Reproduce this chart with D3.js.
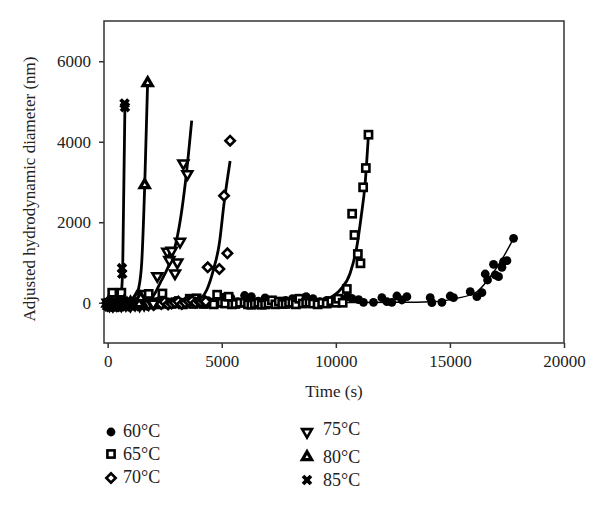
<!DOCTYPE html>
<html><head><meta charset="utf-8">
<script src="https://cdn.jsdelivr.net/npm/d3@7"></script>
<style>body{margin:0;background:#fff}svg{display:block}text{font-family:"Liberation Serif","Times New Roman",serif;fill:#222}</style>
</head><body><svg id="c" width="600" height="511"></svg>
<script>
// ---- data (time s, adjusted hydrodynamic diameter nm) ----
const t60 = [100,400,700,1000,1400,1800,2200,2600,3000,3300,3700,4000,4400,4800,5100,5400,5700,6000,6300,6600,6900,7200,7500,7800,8100,8400,8700,9000,9300,9600,9900,10200,10500,10700,11000,11211,11650,12018,12237,12456,12675,12895,13114,14136,14210,14649,15013,15158,15890,16183,16403,16548,16650,16912,16987,17131,17280,17352,17500,17790];
const y60 = [30,0,20,10,40,0,30,20,60,10,80,20,50,100,140,130,30,180,150,40,120,60,20,60,100,70,150,100,30,60,20,90,150,110,80,11,11,126,26,11,168,68,150,126,1,11,168,126,274,150,250,714,565,955,690,648,881,1021,1046,1601];
const t65 = [50,200,350,500,600,750,900,1050,1200,1350,1500,1650,1800,1950,2100,2250,2400,2550,2700,2850,3000,3150,3300,3450,3600,3750,3900,4050,4200,4350,4500,4650,4800,4950,5000,5150,5300,5450,5600,5800,6000,6150,6300,6450,6600,6750,6900,7050,7200,7350,7500,7650,7800,7950,8100,8250,8400,8550,8700,8850,9000,9200,9400,9600,9800,10000,10100,10300,10482,10715,10817,10965,11080,11197,11315,11431];
const y65 = [0,250,-40,-20,250,0,-30,-20,-20,0,200,-30,220,-10,0,-40,230,0,-30,0,0,-20,-40,0,100,-30,110,0,-30,-20,0,-40,200,0,0,-20,150,-40,-30,0,0,-40,-50,-30,0,-50,-40,-20,60,-40,30,-30,-30,0,0,-40,100,-20,0,0,-20,-40,0,-20,40,0,100,0,342,2212,1683,1211,980,2868,3347,4175];
const t70 = [0,100,200,300,400,500,600,700,800,900,1000,1150,1300,1450,1600,1750,1900,2050,2200,2350,2500,2650,2800,2950,3100,3250,3400,3550,3700,3850,4000,4100,4200,4300,4386,4896,5101,5247,5367];
const y70 = [0,-40,-20,-50,10,-30,-10,-60,0,-40,-30,-50,10,-40,0,-50,-20,-40,0,-30,20,-40,-20,0,30,-30,0,40,50,0,40,20,60,30,881,838,2660,1228,4027];
const t75 = [0,80,150,230,300,400,500,600,700,800,900,1000,1100,1200,1300,1400,1500,1600,1700,1800,1900,2000,2176,2615,2806,2703,3054,2952,3171,3317,3493];
const y75 = [0,-60,-30,-70,0,-50,-20,-60,10,-50,-30,-70,0,-40,-20,-60,10,-40,0,-30,30,-20,664,1270,1293,1062,1004,731,1518,3463,3198];
const t80 = [0,60,100,170,250,320,400,470,550,620,700,770,850,920,1000,1080,1150,1230,1300,1380,1450,1623,1754];
const y80 = [-20,-70,0,-60,-40,-80,0,-60,-30,-70,10,-60,-30,-70,0,-50,-20,-60,150,-30,120,2925,5460];
const t85 = [0,40,80,120,160,200,240,280,320,360,400,440,480,520,560,627,640,740,759];
const y85 = [-60,-100,-80,-110,-50,-90,-70,-100,-90,-110,-60,-100,-80,-90,-50,860,720,4950,4860];

// fitted curves
const fit60t = [0,4000,8000,11000,12820,14136,15306,16183,16768,17352,17790];
const fit60y = [0,2,5,8,11,26,110,274,647,1145,1601];
const fit65t = [9167,9605,10188,10627,10920,11110,11285,11431];
const fit65y = [26,86,317,732,1394,2138,2968,4190];
const fit70t = [3900,4048,4342,4632,4896,5101,5367];
const fit70y = [0,68,317,813,1477,2470,3521];
const fit75t = [1800,2075,2294,2659,3000,3250,3450,3684];
const fit75y = [10,235,483,900,1500,2300,3200,4522];
const fit80t = [1150,1197,1344,1491,1623,1754];
const fit80y = [0,68,317,980,2883,5520];
const fit85t = [520,539,583,658,759];
const fit85y = [0,26,150,813,4950];

const labels = ["60°C","65°C","70°C","75°C","80°C","85°C"];
const xTicks = [0,5000,10000,15000,20000];
const yTicks = [0,2000,4000,6000];

// ---- chart ----
const svg = d3.select("#c");
const x = d3.scaleLinear().domain([-160,20000]).range([104,564]);
const y = d3.scaleLinear().domain([-1000,7000]).range([343,21]);

const axisColor = "#333";
svg.append("rect").attr("x",104).attr("y",21).attr("width",460).attr("height",322)
  .attr("fill","none").attr("stroke",axisColor).attr("stroke-width",1.5);

const gx = svg.append("g").attr("transform","translate(0,343)")
  .call(d3.axisBottom(x).tickValues(xTicks).tickSize(5).tickPadding(7).tickFormat(d3.format("d")));
const gy = svg.append("g").attr("transform","translate(104,0)")
  .call(d3.axisLeft(y).tickValues(yTicks).tickSize(5).tickPadding(8).tickFormat(d3.format("d")));
[gx,gy].forEach(g=>{
  g.select(".domain").remove();
  g.selectAll("line").attr("stroke",axisColor).attr("stroke-width",1.5);
  g.selectAll("text").style("font-family",'"Liberation Serif",serif').style("font-size","17px").attr("fill","#222");
});

svg.append("text").attr("x",334).attr("y",397).attr("text-anchor","middle")
  .style("font-size","17px").text("Time (s)");
svg.append("text").attr("transform","translate(35,189) rotate(-90)").attr("text-anchor","middle")
  .style("font-size","17px").text("Adjusted hydrodynamic diameter (nm)");

// fits
const line = d3.line().x(d=>x(d[0])).y(d=>y(d[1])).curve(d3.curveMonotoneX);
const fits = [[fit60t,fit60y,1.4],[fit65t,fit65y,2.8],[fit70t,fit70y,2.8],[fit75t,fit75y,2.8],[fit80t,fit80y,2.8],[fit85t,fit85y,2.8]];
fits.forEach(([ts,ys,w])=>{
  svg.append("path").datum(ts.map((t,i)=>[t,ys[i]])).attr("d",line)
    .attr("fill","none").attr("stroke","#000").attr("stroke-width",w);
});

// markers
const sym = {
  "60": g=>g.append("circle").attr("r",4.4).attr("fill","#000"),
  "65": g=>g.append("rect").attr("x",-3.6).attr("y",-3.6).attr("width",7.2).attr("height",7.2).attr("fill","#fff").attr("stroke","#000").attr("stroke-width",2.6),
  "70": g=>g.append("path").attr("d",d3.symbol(d3.symbolSquare,44)()).attr("transform","rotate(45)").attr("fill","#fff").attr("stroke","#000").attr("stroke-width",2.6),
  "75": g=>g.append("path").attr("d",d3.symbol(d3.symbolTriangle,42)()).attr("transform","rotate(180)").attr("fill","#fff").attr("stroke","#000").attr("stroke-width",2.6),
  "80": g=>{g.append("path").attr("d",d3.symbol(d3.symbolTriangle,95)()).attr("fill","#000");
            g.append("path").attr("d",d3.symbol(d3.symbolTriangle,5)()).attr("fill","#fff");},
  "85": g=>g.append("path").attr("d",d3.symbol(d3.symbolCross,70)()).attr("transform","rotate(45)").attr("fill","#000")
};
const series = [["60",t60,y60],["65",t65,y65],["70",t70,y70],["75",t75,y75],["80",t80,y80],["85",t85,y85]];
series.forEach(([k,ts,ys])=>{
  const g = svg.append("g");
  ts.forEach((t,i)=>{
    const m = g.append("g").attr("transform",`translate(${x(t)},${y(ys[i])})`);
    sym[k](m);
  });
});

// legend
const legPos = [[111,432,123,437],[111,454,123,460],[111,478,123,483],[307,432,323,435],[307,457,323,463],[307,480,323,486]];
series.forEach(([k],i)=>{
  const [mx,my,tx,ty] = legPos[i];
  const m = svg.append("g").attr("transform",`translate(${mx},${my})`);
  sym[k](m);
  svg.append("text").attr("x",tx).attr("y",ty).style("font-size","18px").text(labels[i]);
});
</script></body></html>
